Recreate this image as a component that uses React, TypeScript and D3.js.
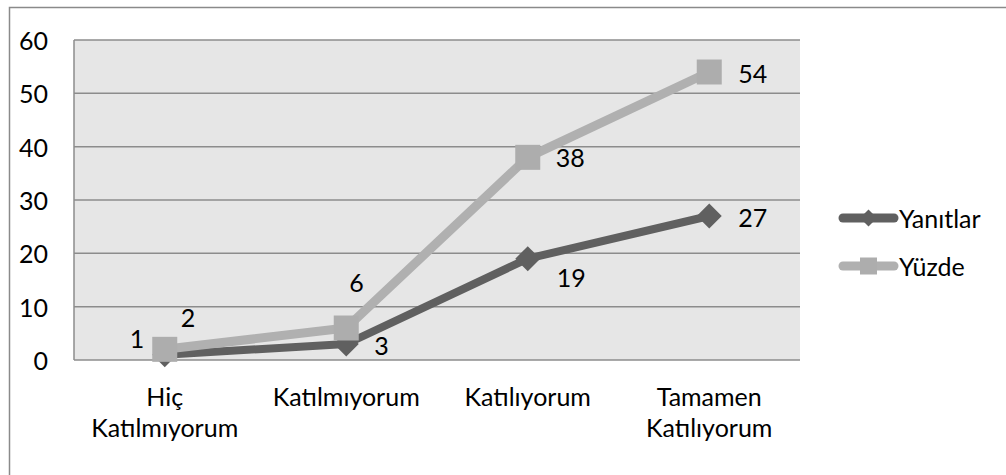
import React from 'react';
import * as d3 from 'd3';

const categories = [['Hiç', 'Katılmıyorum'], ['Katılmıyorum'], ['Katılıyorum'], ['Tamamen', 'Katılıyorum']];
const yanitlar = [1, 3, 19, 27];
const yuzde = [2, 6, 38, 54];
const yTicks = [0, 10, 20, 30, 40, 50, 60];

// label placement, relative to the point (text-anchor start)
const yanitlarLabelOffset = [[-35, -17], [28, 1], [29, 18], [29, 1]];
const yuzdeLabelOffset = [[16, -32], [3, -46], [28, 0], [29, 1]];

const W = 1006;
const H = 475;
const margin = { top: 40, left: 74, right: 206, bottom: 115 };
const DARK = '#606060';
const LIGHT = '#b0b0b0';
const FONT = 'Lato, sans-serif';
const FS = 25;

export default function App() {
  const x = d3.scaleBand<number>()
    .domain(d3.range(categories.length))
    .range([margin.left, W - margin.right]);
  const y = d3.scaleLinear().domain([0, 60]).range([H - margin.bottom, margin.top]);
  const cx = (i: number) => (x(i) as number) + x.bandwidth() / 2;

  const line = d3.line<number>().x((_, i) => cx(i)).y(d => y(d));
  const plotR = W - margin.right;
  const plotB = H - margin.bottom;

  const diamond = (px: number, py: number, r: number) =>
    `M${px},${py - r}L${px + r},${py}L${px},${py + r}L${px - r},${py}Z`;

  return (
    <svg width={W} height={H} style={{ position: 'absolute', left: 0, top: 0, background: '#fff' }}
      fontFamily={FONT}>
      <rect x={9.5} y={7.5} width={W + 20} height={H + 20} fill="none" stroke="#8a8a8a" strokeWidth={1.5} />
      <rect x={margin.left} y={margin.top} width={plotR - margin.left} height={plotB - margin.top} fill="#e6e6e6" />
      {yTicks.map(t => (
        <g key={t}>
          <line x1={margin.left} x2={plotR} y1={y(t)} y2={y(t)} stroke="#8c8c8c" strokeWidth={1.5} />
          <text x={48} y={y(t)} textAnchor="end" dominantBaseline="central" fontSize={FS} fill="#000">{t}</text>
        </g>
      ))}
      <line x1={margin.left} x2={margin.left} y1={margin.top} y2={plotB} stroke="#8c8c8c" strokeWidth={1.5} />

      {categories.map((c, i) => (
        <text key={i} x={cx(i)} y={406} textAnchor="middle" fontSize={FS} fill="#000">
          {c.map((s, j) => <tspan key={j} x={cx(i)} dy={j === 0 ? 0 : 31}>{s}</tspan>)}
        </text>
      ))}

      <path d={line(yanitlar) || ''} fill="none" stroke={DARK} strokeWidth={8} strokeLinejoin="round" strokeLinecap="round" />
      {yanitlar.map((v, i) => (
        <path key={i} d={diamond(cx(i), y(v), 12.5)} fill={DARK} />
      ))}
      <path d={line(yuzde) || ''} fill="none" stroke={LIGHT} strokeWidth={9} strokeLinejoin="round" strokeLinecap="round" />
      {yuzde.map((v, i) => (
        <rect key={i} x={cx(i) - 12.5} y={y(v) - 12.5} width={25} height={25} fill="#adadad" />
      ))}

      {yanitlar.map((v, i) => (
        <text key={i} x={cx(i) + yanitlarLabelOffset[i][0]} y={y(v) + yanitlarLabelOffset[i][1]}
          dominantBaseline="central" fontSize={FS} fill="#000">{v}</text>
      ))}
      {yuzde.map((v, i) => (
        <text key={i} x={cx(i) + yuzdeLabelOffset[i][0]} y={y(v) + yuzdeLabelOffset[i][1]}
          dominantBaseline="central" fontSize={FS} fill="#000">{v}</text>
      ))}

      <g>
        <line x1={843} x2={894} y1={218} y2={218} stroke={DARK} strokeWidth={9} strokeLinecap="round" />
        <path d={diamond(868.5, 218, 8.5)} fill={DARK} />
        <text x={899} y={218} dominantBaseline="central" fontSize={FS} fill="#000">Yanıtlar</text>
        <line x1={843} x2={894} y1={266} y2={266} stroke={LIGHT} strokeWidth={9} strokeLinecap="round" />
        <rect x={860} y={257.5} width={17} height={17} fill="#adadad" />
        <text x={899} y={266} dominantBaseline="central" fontSize={FS} fill="#000">Yüzde</text>
      </g>
    </svg>
  );
}
